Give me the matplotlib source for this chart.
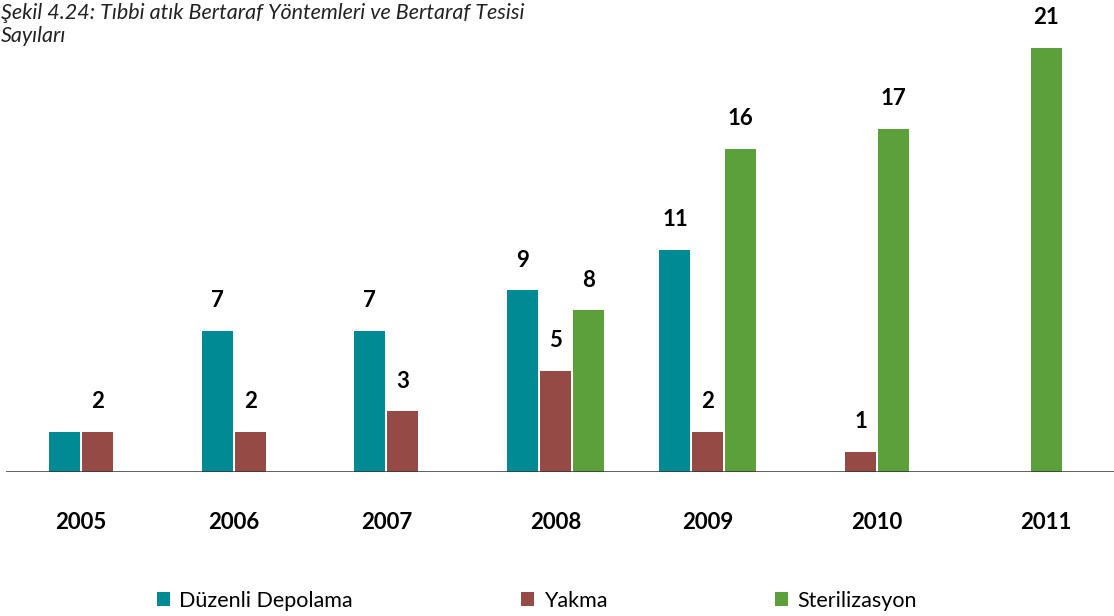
import matplotlib.pyplot as plt
import numpy as np

plt.rcParams['font.family'] = ['Lato', 'DejaVu Sans']

years = ['2005', '2006', '2007', '2008', '2009', '2010', '2011']
series = ['Düzenli Depolama', 'Yakma', 'Sterilizasyon']
duzenli = [2, 7, 7, 9, 11, 0, 0]
yakma = [2, 2, 3, 5, 2, 1, 0]
sterilizasyon = [0, 0, 0, 8, 16, 17, 21]
colors = ['#008a94', '#954a45', '#5ba03a']

fig = plt.figure(figsize=(11.14, 6.16), dpi=100)
ax = fig.add_axes([6 / 1114, 144 / 616, 1108 / 1114, 472 / 616])

x = np.arange(len(years))
step = 0.216
width = 0.203
values = [duzenli, yakma, sterilizasyon]
for k, (name, vals, c) in enumerate(zip(series, values, colors)):
    pos = x + (k - 1) * step
    v = np.array(vals)
    ax.bar(pos[v > 0], v[v > 0], width=width, color=c, label=name, zorder=2)
    for px, val in zip(pos, vals):
        # the first-year blue bar carries no label
        if val > 0 and not (k == 0 and px < 0):
            ax.text(px, val + 1.49, str(val), ha='center', va='center',
                    fontsize=16, fontweight='bold', color='black')

# year labels sit under the bars that are present in each group
for i, yr in enumerate(years):
    present = [(k - 1) * step for k in range(3) if values[k][i] > 0]
    ax.text(i + np.mean(present), -2.5, yr, ha='center', va='center',
            fontsize=16, fontweight='bold', color='black')

ax.axhline(0, color='#333333', lw=2, alpha=0.85, zorder=3)
ax.set_xlim(-0.600, 6.661)
ax.set_ylim(0, 23.37)
ax.axis('off')

fig.text(0.001, 0.995, 'Şekil 4.24: Tıbbi atık Bertaraf Yöntemleri ve Bertaraf Tesisi\nSayıları',
         ha='left', va='top', fontsize=15.5, style='italic', color='#222222',
         linespacing=1.2)

fig.legend(loc='center', bbox_to_anchor=(0.482, 0.025), ncol=3, frameon=False,
           fontsize=15.5, handlelength=0.6, handleheight=0.6, handletextpad=0.45,
           columnspacing=7.8)

fig.savefig('out.png', dpi=100)
